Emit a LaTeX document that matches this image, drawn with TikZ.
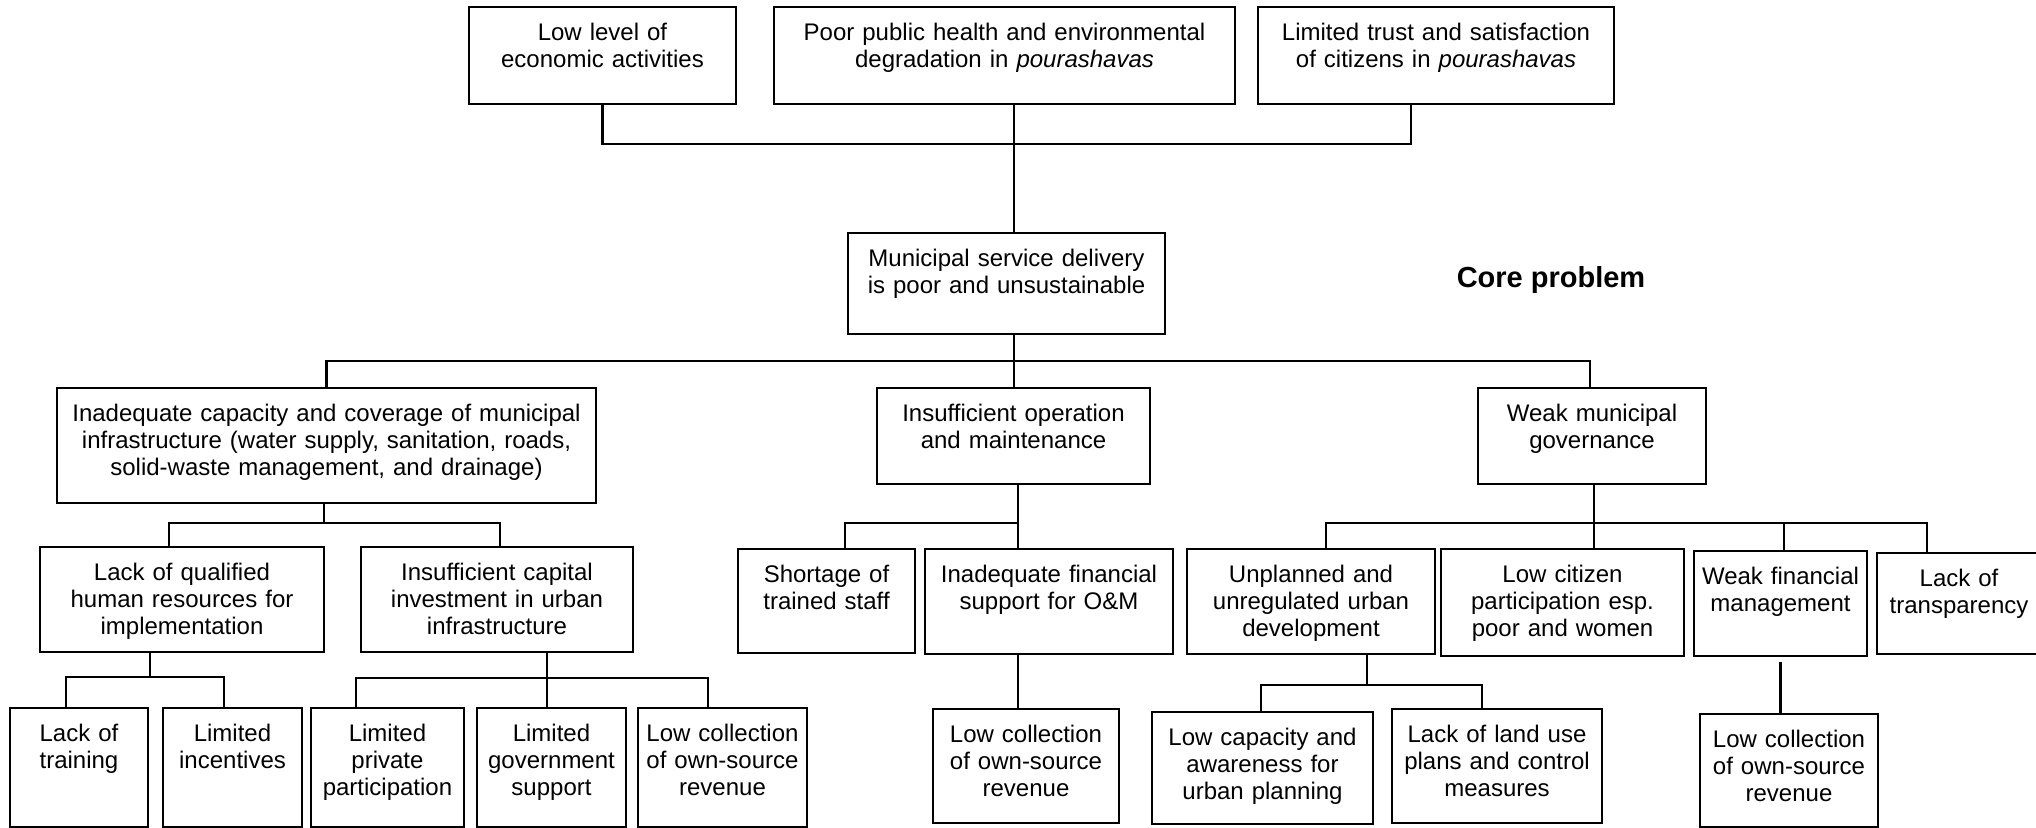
\documentclass[tikz,border=0pt]{standalone}
\usepackage{fontspec}
\setmainfont{Liberation Sans}
\usepackage{tikz}

\begin{document}
\begin{tikzpicture}[x=1pt, y=-1pt,
   main node/.style={draw, line width=1.5pt, inner sep=0pt, anchor=north, align=center,
      text height=34pt, font=\fontsize{24}{27}\selectfont},
   link/.style={line width=2.2pt},
   thin link/.style={line width=1.6pt}]
   \useasboundingbox (0,0) rectangle (2036,827);
   \fill[white] (0,0) rectangle (2036,827);

   % effects
   \node[main node, text width=267pt, text depth=63pt] (eco) at (602.5,6) {Low level of\\economic activities};
   \node[main node, text width=461pt, text depth=63pt] (health) at (1004.5,6) {Poor public health and environmental\\degradation in \textit{pourashavas}};
   \node[main node, text width=356pt, text depth=63pt] (trust) at (1436,6) {Limited trust and satisfaction\\of citizens in \textit{pourashavas}};

   % core problem
   \node[main node, text width=317pt, text depth=67pt] (core) at (1006.5,232) {Municipal service delivery\\is poor and unsustainable};
   \node[font=\fontsize{29}{33}\selectfont\bfseries] (corelabel) at (1551,280) {Core problem};

   % causes
   \node[main node, text width=539pt, text depth=81pt] (infra) at (326.5,387) {Inadequate capacity and coverage of municipal\\infrastructure (water supply, sanitation, roads,\\solid-waste management, and drainage)};
   \node[main node, text width=273pt, text depth=62pt] (om) at (1013.5,387) {Insufficient operation\\and maintenance};
   \node[main node, text width=228pt, text depth=62pt] (gov) at (1592,387) {Weak municipal\\governance};

   \node[main node, text width=284pt, text depth=71pt] (human) at (182,546) {Lack of qualified\\human resources for\\implementation};
   \node[main node, text width=272pt, text depth=71pt] (capital) at (497,546) {Insufficient capital\\investment in urban\\infrastructure};
   \node[main node, text width=177pt, text depth=70pt] (staff) at (826.5,548) {Shortage of\\trained staff};
   \node[main node, text width=248pt, text depth=71pt] (finOM) at (1049,548) {Inadequate financial\\support for O\&M};
   \node[main node, text width=248pt, text depth=71pt] (unplanned) at (1311,548) {Unplanned and\\unregulated urban\\development};
   \node[main node, text width=243pt, text depth=73pt] (citizen) at (1562.5,548) {Low citizen\\participation esp.\\poor and women};
   \node[main node, text width=173pt, text depth=71pt] (finmgmt) at (1780.5,550) {Weak financial\\management};
   \node[main node, text width=164pt, text depth=67pt] (transp) at (1959,552) {Lack of\\transparency};

   \node[main node, text width=138pt, text depth=85pt] (training) at (79,707) {Lack of\\training};
   \node[main node, text width=139pt, text depth=85pt] (incent) at (232.5,707) {Limited\\incentives};
   \node[main node, text width=153pt, text depth=85pt] (private) at (387.5,707) {Limited\\private\\participation};
   \node[main node, text width=149pt, text depth=85pt] (govsup) at (551.5,707) {Limited\\government\\support};
   \node[main node, text width=169pt, text depth=85pt] (ownA) at (722.5,707) {Low collection\\of own-source\\revenue};
   \node[main node, text width=186pt, text depth=80pt] (ownB) at (1026,708) {Low collection\\of own-source\\revenue};
   \node[main node, text width=221pt, text depth=78pt] (lowcap) at (1262.5,711) {Low capacity and\\awareness for\\urban planning};
   \node[main node, text width=210pt, text depth=80pt] (landuse) at (1497,708) {Lack of land use\\plans and control\\measures};
   \node[main node, text width=178pt, text depth=79pt] (ownC) at (1789,713) {Low collection\\of own-source\\revenue};

   \coordinate (j1) at (1014,144);
   \coordinate (j2) at (1014,361);
   \coordinate (j3) at (324,523);
   \coordinate (j4) at (150,677);
   \coordinate (j5) at (547,678);
   \coordinate (j6) at (1018,523);
   \coordinate (j7) at (1594,523);
   \coordinate (j8) at (1367,685);

   \draw[link] (eco.south) |- (j1) -| ([xshift=-25pt]trust.south);
   \draw[link] (health.south -| j1) -- (core.north -| j1);
   \draw[link] (core.south -| j2) -- (om.north -| j2);
   \draw[link] (infra.north) |- (j2) -| ([xshift=-2pt]gov.north);

   \draw[thin link] (infra.south -| j3) -- (j3);
   \draw[thin link] ([xshift=-13pt]human.north) |- (j3) -| ([xshift=3pt]capital.north);
   \draw[thin link] (human.south -| j4) -- (j4);
   \draw[thin link] ([xshift=-13pt]training.north) |- (j4) -| ([xshift=-8.5pt]incent.north);
   \draw[thin link] (capital.south -| j5) -- (govsup.north -| j5);
   \draw[thin link] ([xshift=-31.5pt]private.north) |- (j5) -| ([xshift=-14.5pt]ownA.north);

   \draw[thin link] (om.south -| j6) -- (finOM.north -| j6);
   \draw[thin link] ([xshift=18.5pt]staff.north) |- (j6);
   \draw[thin link] (finOM.south -| j6) -- (ownB.north -| j6);

   \draw[thin link] (gov.south -| j7) -- (citizen.north -| j7);
   \draw[thin link] ([xshift=15pt]unplanned.north) |- (j7) -| ([xshift=-32pt]transp.north);
   \draw[thin link] ([xshift=3.5pt]finmgmt.north) |- (j7);
   \draw[thin link] (unplanned.south -| j8) -- (j8);
   \draw[thin link] ([xshift=-1.5pt]lowcap.north) |- (j8) -| ([xshift=-15pt]landuse.north);
   \draw[link] ([yshift=-5pt]finmgmt.south) -- (ownC.north -| finmgmt.south);
\end{tikzpicture}
\end{document}
